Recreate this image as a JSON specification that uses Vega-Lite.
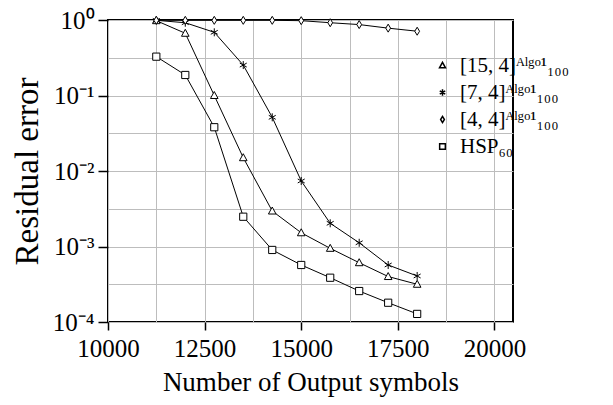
{
  "$schema": "https://vega.github.io/schema/vega-lite/v6.json",
  "width": 405,
  "height": 302,
  "autosize": {"type": "none"},
  "padding": {"left": 108, "top": 20, "right": 100, "bottom": 83},
  "background": "white",
  "config": {
    "view": {"stroke": "black", "strokeWidth": 2},
    "font": "Liberation Serif",
    "axis": {
      "labelFont": "Liberation Serif",
      "titleFont": "Liberation Serif",
      "labelColor": "black",
      "titleColor": "black",
      "titleFontWeight": "normal",
      "gridColor": "#bdbdbd",
      "gridWidth": 1,
      "domain": false,
      "tickColor": "black",
      "tickWidth": 1.5
    }
  },
  "data": {
    "values": [
      {"n": 11250, "err": 0.98, "s": "A"},
      {"n": 12000, "err": 0.667, "s": "A"},
      {"n": 12750, "err": 0.10, "s": "A"},
      {"n": 13500, "err": 0.015, "s": "A"},
      {"n": 14250, "err": 0.00295, "s": "A"},
      {"n": 15000, "err": 0.00152, "s": "A"},
      {"n": 15750, "err": 0.000946, "s": "A"},
      {"n": 16500, "err": 0.00061, "s": "A"},
      {"n": 17250, "err": 0.0004, "s": "A"},
      {"n": 18000, "err": 0.000316, "s": "A"},
      {"n": 11250, "err": 0.99, "s": "B"},
      {"n": 12000, "err": 0.92, "s": "B"},
      {"n": 12750, "err": 0.687, "s": "B"},
      {"n": 13500, "err": 0.253, "s": "B"},
      {"n": 14250, "err": 0.0514, "s": "B"},
      {"n": 15000, "err": 0.00738, "s": "B"},
      {"n": 15750, "err": 0.00203, "s": "B"},
      {"n": 16500, "err": 0.00112, "s": "B"},
      {"n": 17250, "err": 0.000569, "s": "B"},
      {"n": 18000, "err": 0.000407, "s": "B"},
      {"n": 11250, "err": 0.99, "s": "C"},
      {"n": 12000, "err": 0.99, "s": "C"},
      {"n": 12750, "err": 0.99, "s": "C"},
      {"n": 13500, "err": 0.99, "s": "C"},
      {"n": 14250, "err": 0.99, "s": "C"},
      {"n": 15000, "err": 0.98, "s": "C"},
      {"n": 15750, "err": 0.92, "s": "C"},
      {"n": 16500, "err": 0.87, "s": "C"},
      {"n": 17250, "err": 0.78, "s": "C"},
      {"n": 18000, "err": 0.71, "s": "C"},
      {"n": 11250, "err": 0.327, "s": "D"},
      {"n": 12000, "err": 0.187, "s": "D"},
      {"n": 12750, "err": 0.038, "s": "D"},
      {"n": 13500, "err": 0.00248, "s": "D"},
      {"n": 14250, "err": 0.0009, "s": "D"},
      {"n": 15000, "err": 0.000569, "s": "D"},
      {"n": 15750, "err": 0.000386, "s": "D"},
      {"n": 16500, "err": 0.000257, "s": "D"},
      {"n": 17250, "err": 0.00018, "s": "D"},
      {"n": 18000, "err": 0.000128, "s": "D"}
    ]
  },
  "encoding": {
    "x": {
      "field": "n",
      "type": "quantitative",
      "scale": {"domain": [10000, 20480], "nice": false, "zero": false},
      "axis": {
        "title": "Number of Output symbols",
        "titleFontSize": 27,
        "titlePadding": 8,
        "labelFontSize": 25,
        "labelPadding": 6,
        "tickSize": 8,
        "values": [10000, 11250, 12500, 13750, 15000, 16250, 17500, 18750, 20000],
        "labelExpr": "datum.value % 2500 == 0 ? format(datum.value, 'd') : ''",
        "tickOpacity": {"condition": {"test": "datum.value % 2500 == 0", "value": 1}, "value": 0},
        "labelFlush": false,
        "labelOverlap": false
      }
    },
    "y": {
      "field": "err",
      "type": "quantitative",
      "scale": {"type": "log", "domain": [0.0001, 1], "nice": false},
      "axis": {
        "title": "Residual error",
        "titleFontSize": 33,
        "titlePadding": 8,
        "labelFontSize": 25,
        "labelPadding": 4,
        "tickSize": 10,
        "values": [1, 0.316228, 0.1, 0.0316228, 0.01, 0.00316228, 0.001, 0.000316228, 0.0001],
        "labelExpr": "(round(log(datum.value)/LN10*2) % 2 != 0) ? '' : ['10⁰','10⁻¹','10⁻²','10⁻³','10⁻⁴'][-round(log(datum.value)/LN10)]",
        "tickOpacity": {"condition": {"test": "round(log(datum.value)/LN10*2) % 2 == 0", "value": 1}, "value": 0},
        "labelFlush": false,
        "labelOverlap": false
      }
    }
  },
  "layer": [
    {
      "mark": {"type": "line", "color": "black", "strokeWidth": 1},
      "encoding": {"detail": {"field": "s"}}
    },
    {
      "mark": {"type": "point", "filled": true, "fill": "white", "stroke": "black", "strokeWidth": 1, "opacity": 1},
      "encoding": {
        "shape": {
          "field": "s",
          "type": "nominal",
          "scale": {
            "domain": ["A", "B", "C", "D"],
            "range": [
              "M0,-1L0.95,0.75L-0.95,0.75Z",
              "M0,-1L0,1M-0.87,-0.5L0.87,0.5M-0.87,0.5L0.87,-0.5",
              "M0,-1L0.6,0L0,1L-0.6,0Z",
              "M-0.9,-0.9L0.9,-0.9L0.9,0.9L-0.9,0.9Z"
            ]
          },
          "legend": {
            "title": null,
            "orient": "none",
            "legendX": 324,
            "legendY": 35,
            "labelFont": "Liberation Serif",
            "labelFontSize": 21,
            "labelColor": "black",
            "symbolSize": 40,
            "rowPadding": 5,
            "labelOffset": 7,
            "encode": {
              "symbols": {
                "update": {
                  "shape": {"scale": "shape", "field": "value"},
                  "size": {"value": 40},
                  "stroke": {"value": "black"},
                  "fill": {"value": "white"},
                  "fillOpacity": {"value": 1},
                  "strokeOpacity": {"value": 1},
                  "opacity": {"value": 1},
                  "strokeWidth": {"value": 1}
                }
              }
            },
            "labelExpr": "{'A':'[15, 4]ᴬˡᵍᵒ¹₁₀₀','B':'[7, 4]ᴬˡᵍᵒ¹₁₀₀','C':'[4, 4]ᴬˡᵍᵒ¹₁₀₀','D':'HSP₆₀'}[datum.label]"
          }
        },
        "size": {"value": 64}
      }
    }
  ]
}
